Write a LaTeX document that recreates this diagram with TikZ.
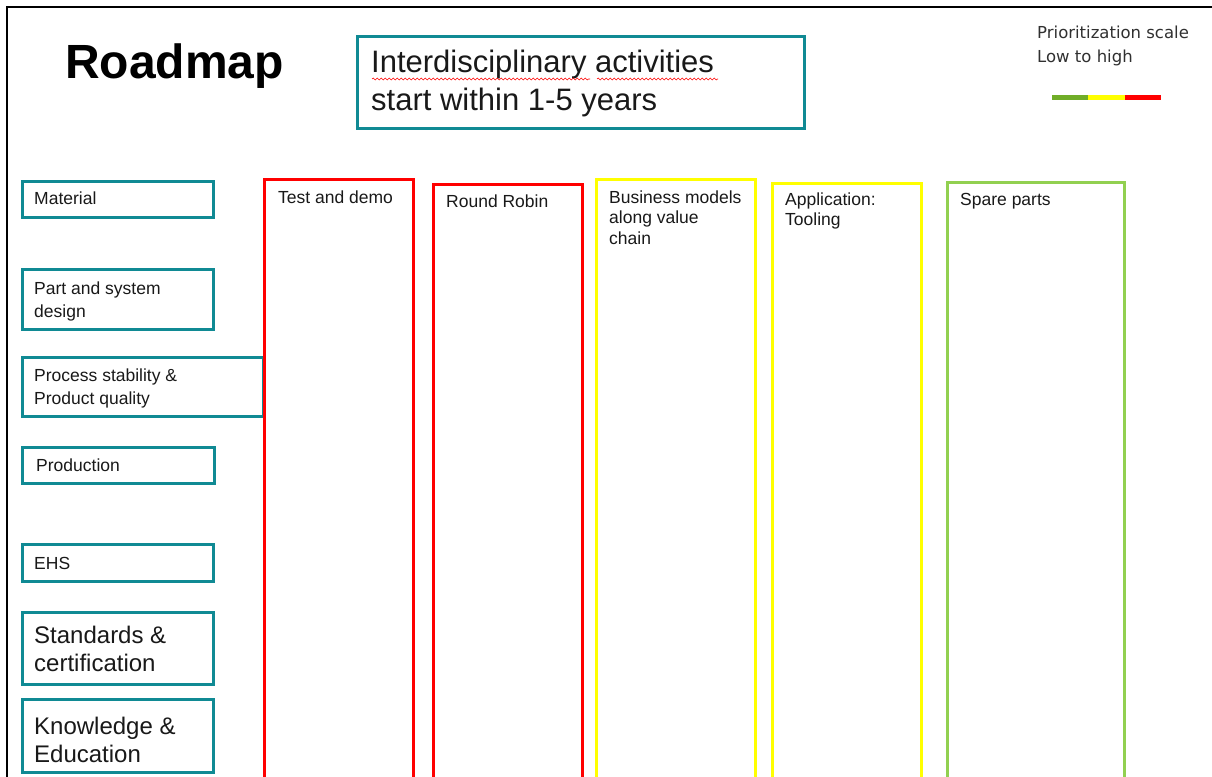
\documentclass[tikz,border=0pt]{standalone}
\usepackage{fontspec}
\setmainfont{Liberation Sans}
\newfontfamily\prifont{DejaVu Sans}
\usetikzlibrary{decorations.pathmorphing}
\definecolor{teal1}{RGB}{16,138,148}
\definecolor{pred}{RGB}{255,0,0}
\definecolor{pyel}{RGB}{255,255,0}
\definecolor{pgrn}{RGB}{146,208,80}
\definecolor{sgrn}{RGB}{112,173,40}
\definecolor{txt}{RGB}{25,25,25}
\newcommand{\mlines}[1]{\begin{tabular}[t]{@{}l@{}}#1\end{tabular}}
\tikzset{
  tealbox/.style={draw=teal1, line width=3pt, anchor=north west, inner sep=0pt, outer sep=0pt},
  colbox/.style={line width=3pt, anchor=north west, inner sep=0pt, outer sep=0pt},
  lbl/.style={anchor=base west, inner sep=0pt, text=txt, font=\fontsize{17.5}{23}\selectfont},
  biglbl/.style={anchor=base west, inner sep=0pt, text=txt, font=\fontsize{24}{28}\selectfont},
  wavy/.style={draw=red, line width=0.6pt, decorate, decoration={snake, amplitude=0.9pt, segment length=4pt}}
}
\begin{document}
\begin{tikzpicture}[x=1pt,y=-1pt]
\path[use as bounding box, clip] (0,0) rectangle (1212,776);
\fill[white] (0,0) rectangle (1212,776);
% frame
\draw[line width=2pt] (7,7) rectangle (1240,800);

% title
\node[anchor=base west, inner sep=0pt, font=\fontsize{48}{52}\selectfont\bfseries] (road) at (65,78) {Roadmap};

\node[draw=teal1, line width=3pt, anchor=north west, inner sep=0pt, outer sep=0pt, minimum width=447pt, minimum height=91pt] (tbox) at (357,37) {};
\node[anchor=base west, inner sep=0pt, text=txt, font=\fontsize{31}{38}\selectfont] (ttext) at (371,73) {\mlines{Interdisciplinary activities\\start within 1-5 years}};
\coordinate (w1a) at (372,79); \coordinate (w1b) at (590,79);
\coordinate (w2a) at (597,79); \coordinate (w2b) at (718,79);
\draw[wavy] (w1a) -- (w1b);
\draw[wavy] (w2a) -- (w2b);

% prioritization scale
\node[anchor=base west, inner sep=0pt, text=txt!90, font=\prifont\fontsize{16.5}{24}\selectfont] (prio) at (1037,39) {\mlines{Prioritization scale\\Low to high}};
\coordinate (s0) at (1052,97); \coordinate (s1) at (1088,97);
\coordinate (s2) at (1125,97); \coordinate (s3) at (1161,97);
\draw[sgrn, line width=5pt] (s0) -- (s1);
\draw[pyel, line width=5pt] (s1) -- (s2);
\draw[pred, line width=5pt] (s2) -- (s3);

% left boxes
\node[tealbox, minimum width=191pt, minimum height=36pt] (mat) at (22,181) {};
\node[lbl] (matt) at (34,204) {Material};
\node[tealbox, minimum width=191pt, minimum height=60pt] (part) at (22,269) {};
\node[lbl] (partt) at (34,294) {\mlines{Part and system\\design}};
\node[tealbox, minimum width=241pt, minimum height=59pt] (proc) at (22,357) {};
\node[lbl] (proct) at (34,381) {\mlines{Process stability \&\\Product quality}};
\node[tealbox, minimum width=192pt, minimum height=36pt] (prod) at (22,447) {};
\node[lbl] (prodt) at (36,471) {Production};
\node[tealbox, minimum width=191pt, minimum height=37pt] (ehs) at (22,544) {};
\node[lbl] (ehst) at (34,569) {EHS};
\node[tealbox, minimum width=191pt, minimum height=72pt] (std) at (22,612) {};
\node[biglbl] (stdt) at (34,643) {\mlines{Standards \&\\certification}};
\node[tealbox, minimum width=191pt, minimum height=73pt] (know) at (22,699) {};
\node[biglbl] (knowt) at (34,734) {\mlines{Knowledge \&\\Education}};

% columns
\node[colbox, draw=pred, minimum width=149pt, minimum height=700pt] (c1) at (264,179) {};
\node[lbl] (c1t) at (278,203) {Test and demo};
\node[colbox, draw=pred, minimum width=149pt, minimum height=700pt] (c2) at (433,184) {};
\node[lbl] (c2t) at (446,207) {Round Robin};
\node[colbox, draw=pyel, minimum width=159pt, minimum height=700pt] (c3) at (596,179) {};
\node[lbl, font=\fontsize{17.5}{20.5}\selectfont] (c3t) at (609,203) {\mlines{Business models\\along value\\chain}};
\node[colbox, draw=pyel, minimum width=149pt, minimum height=700pt] (c4) at (772,183) {};
\node[lbl, font=\fontsize{17.5}{20.5}\selectfont] (c4t) at (785,205) {\mlines{Application:\\Tooling}};
\node[colbox, draw=pgrn, minimum width=177pt, minimum height=700pt] (c5) at (947,182) {};
\node[lbl] (c5t) at (960,205) {Spare parts};
\end{tikzpicture}
\end{document}
